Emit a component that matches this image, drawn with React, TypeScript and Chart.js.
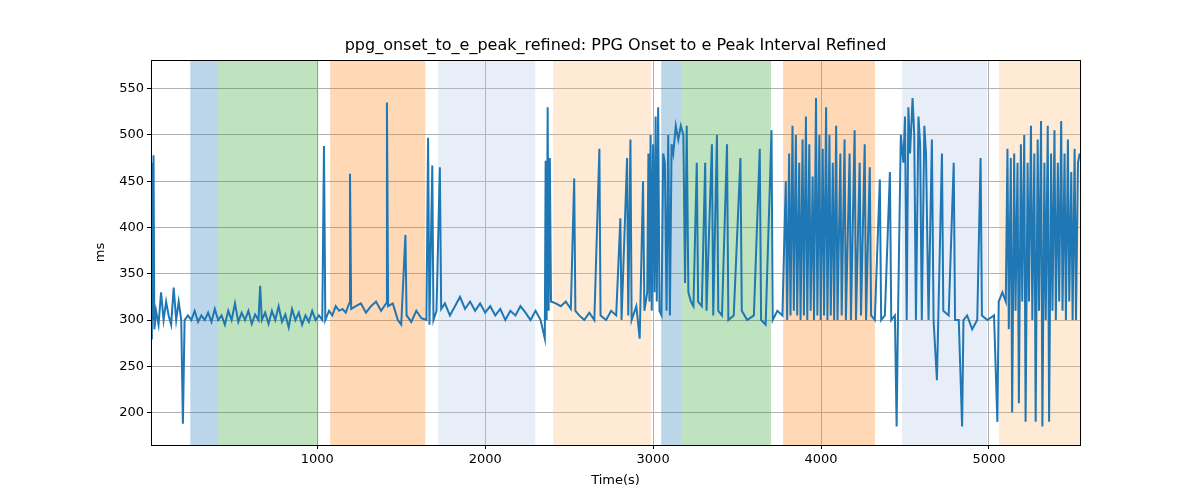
import React, { useEffect, useRef } from "react";
import { Chart, registerables } from "chart.js";
Chart.register(...registerables);

const titleText = "ppg_onset_to_e_peak_refined: PPG Onset to e Peak Interval Refined";
const xLabel = "Time(s)";
const yLabel = "ms";
const xTicks = [1000, 2000, 3000, 4000, 5000];
const yTicks = [200, 250, 300, 350, 400, 450, 500, 550];

const timeVals = [10,15,20,25,30,40,55,70,85,100,115,130,145,160,175,190,200,210,230,250,270,290,310,330,350,370,390,410,430,450,470,490,510,530,550,570,590,610,630,650,660,670,690,710,730,750,770,790,810,830,850,870,890,910,930,950,970,990,1010,1030,1040,1048,1070,1090,1110,1130,1150,1170,1190,1195,1202,1230,1260,1290,1320,1350,1380,1410,1415,1422,1450,1480,1500,1525,1532,1560,1590,1620,1650,1660,1668,1685,1692,1710,1730,1738,1760,1790,1820,1850,1880,1910,1940,1970,2000,2030,2060,2090,2120,2150,2180,2210,2240,2270,2300,2330,2355,2360,2366,2372,2378,2385,2392,2420,2450,2480,2510,2530,2537,2560,2590,2620,2650,2680,2687,2720,2750,2780,2805,2812,2845,2852,2865,2872,2900,2920,2940,2948,2965,2972,2978,2985,2992,3000,3008,3015,3022,3030,3038,3050,3060,3070,3080,3090,3100,3110,3120,3135,3150,3165,3180,3190,3200,3210,3225,3240,3260,3268,3290,3310,3318,3350,3358,3380,3388,3410,3440,3448,3480,3520,3528,3560,3600,3635,3643,3670,3705,3712,3740,3770,3790,3798,3810,3818,3830,3838,3850,3858,3870,3878,3890,3898,3910,3918,3930,3938,3950,3958,3970,3978,3990,3998,4010,4018,4030,4038,4050,4058,4070,4078,4090,4098,4115,4123,4140,4148,4170,4178,4200,4208,4230,4238,4260,4268,4290,4298,4320,4350,4358,4380,4410,4418,4440,4450,4458,4475,4490,4500,4510,4520,4530,4545,4555,4565,4580,4590,4600,4615,4625,4640,4660,4670,4690,4698,4720,4728,4760,4790,4798,4820,4840,4848,4870,4900,4930,4950,4958,4990,5030,5050,5058,5080,5100,5110,5118,5130,5138,5150,5158,5170,5178,5190,5198,5210,5218,5230,5238,5250,5258,5270,5278,5290,5298,5310,5318,5330,5338,5350,5358,5370,5378,5390,5398,5410,5418,5430,5438,5450,5458,5470,5478,5490,5498,5510,5518,5530,5540];
const msVals = [280,470,300,478,290,310,295,330,300,320,305,295,335,300,320,300,188,300,305,300,310,298,305,300,308,298,312,300,305,295,310,300,318,298,308,300,310,296,306,300,337,300,308,296,310,300,315,298,306,292,312,300,308,295,305,298,310,300,305,300,488,300,310,305,315,310,312,308,318,458,312,315,318,308,315,320,310,318,535,315,318,300,295,392,305,298,310,302,300,497,295,467,300,310,465,312,318,305,315,325,312,320,310,318,308,315,305,312,300,310,305,315,308,300,310,300,280,472,300,530,310,475,320,318,315,320,312,453,310,305,300,308,300,485,305,300,310,305,410,300,475,305,495,300,315,280,450,310,330,480,320,500,310,490,330,520,320,530,310,305,480,470,310,500,305,490,480,510,495,510,500,340,510,330,320,315,470,320,315,470,310,490,305,500,310,305,490,300,305,475,310,300,305,485,300,295,505,300,310,305,450,300,480,305,510,310,500,305,470,300,495,305,520,300,490,310,455,300,540,305,500,300,485,305,530,300,500,305,470,300,510,300,480,305,495,300,480,300,505,300,470,305,490,300,465,305,300,452,300,305,460,300,305,185,300,500,470,520,300,530,480,540,500,300,520,490,300,510,480,300,495,300,235,300,480,310,305,470,300,300,185,300,305,290,300,475,305,300,305,190,320,330,320,485,290,475,200,480,310,470,210,490,320,500,190,470,320,510,300,480,190,495,310,515,185,470,300,510,190,480,310,505,300,470,320,515,310,480,300,495,320,460,300,485,300,470,480];

const bandStart = [244, 411, 1077, 1720, 2405, 3048, 3167, 3774, 4482, 5060];
const bandEnd = [411, 1006, 1643, 2298, 2988, 3167, 3702, 4321, 4988, 5542];
const bandColor = [
  "rgba(31,119,180,0.3)", "rgba(44,160,44,0.3)", "rgba(255,127,14,0.3)", "rgba(174,199,232,0.3)", "rgba(255,187,120,0.3)",
  "rgba(31,119,180,0.3)", "rgba(44,160,44,0.3)", "rgba(255,127,14,0.3)", "rgba(174,199,232,0.3)", "rgba(255,187,120,0.3)",
];

const bandPlugin = {
  id: "bands",
  beforeDatasetsDraw(chart: any) {
    const { ctx, chartArea, scales } = chart;
    ctx.save();
    ctx.beginPath();
    ctx.rect(chartArea.left, chartArea.top, chartArea.right - chartArea.left, chartArea.bottom - chartArea.top);
    ctx.clip();
    bandStart.forEach((s, i) => {
      const x0 = scales.x.getPixelForValue(s);
      const x1 = scales.x.getPixelForValue(bandEnd[i]);
      ctx.fillStyle = bandColor[i];
      ctx.fillRect(x0, chartArea.top, x1 - x0, chartArea.bottom - chartArea.top);
    });
    ctx.restore();
  },
  afterDraw(chart: any) {
    const { ctx, chartArea: a } = chart;
    ctx.save();
    ctx.strokeStyle = "#000";
    ctx.lineWidth = 1;
    ctx.strokeRect(a.left + 0.5, a.top + 0.5, a.right - a.left, a.bottom - a.top);
    ctx.fillStyle = "#000";
    ctx.textAlign = "center";
    ctx.textBaseline = "middle";
    ctx.font = "16px 'DejaVu Sans'";
    ctx.fillText(titleText, (a.left + a.right) / 2, 46);
    ctx.font = "13px 'DejaVu Sans'";
    ctx.fillText(xLabel, (a.left + a.right) / 2, 481);
    ctx.translate(101, (a.top + a.bottom) / 2);
    ctx.rotate(-Math.PI / 2);
    ctx.fillText(yLabel, 0, 0);
    ctx.restore();
  },
};

export default function App() {
  const ref = useRef<HTMLCanvasElement>(null);
  useEffect(() => {
    const font = { family: "DejaVu Sans", size: 13 };
    const chart = new Chart(ref.current!, {
      type: "line",
      data: {
        datasets: [{
          data: timeVals.map((t, i) => ({ x: t, y: msVals[i] })),
          borderColor: "#1f77b4",
          borderWidth: 2,
          pointRadius: 0,
          tension: 0,
        }],
      },
      options: {
        animation: false,
        responsive: false,
        layout: { padding: { right: 120, left: 0, bottom: 0, top: 60 } },
        plugins: {
          legend: { display: false },
          tooltip: { enabled: false },
          title: { display: false },
        },
        scales: {
          x: {
            type: "linear",
            min: 10,
            max: 5542,
            afterBuildTicks: (s: any) => { s.ticks = xTicks.map((v) => ({ value: v })); },
            afterFit: (s: any) => { s.height = 55; },
            ticks: { color: "#000", font, maxRotation: 0, callback: (v: any) => String(v) },
            grid: { color: "#b0b0b0", tickColor: "#000", tickLength: 4 },
            border: { color: "#000" },
          },
          y: {
            min: 165,
            max: 581,
            afterBuildTicks: (s: any) => { s.ticks = yTicks.map((v) => ({ value: v })); },
            afterFit: (s: any) => { s.width = 151; },
            ticks: { color: "#000", font },
            grid: { color: "#b0b0b0", tickColor: "#000", tickLength: 4 },
            border: { color: "#000" },
          },
        },
      },
      plugins: [bandPlugin],
    });
    return () => chart.destroy();
  }, []);
  return (
    <div style={{ position: "fixed", left: 0, top: 0, width: 1200, height: 500, background: "#fff" }}>
      <canvas ref={ref} width={1200} height={500} />
    </div>
  );
}
